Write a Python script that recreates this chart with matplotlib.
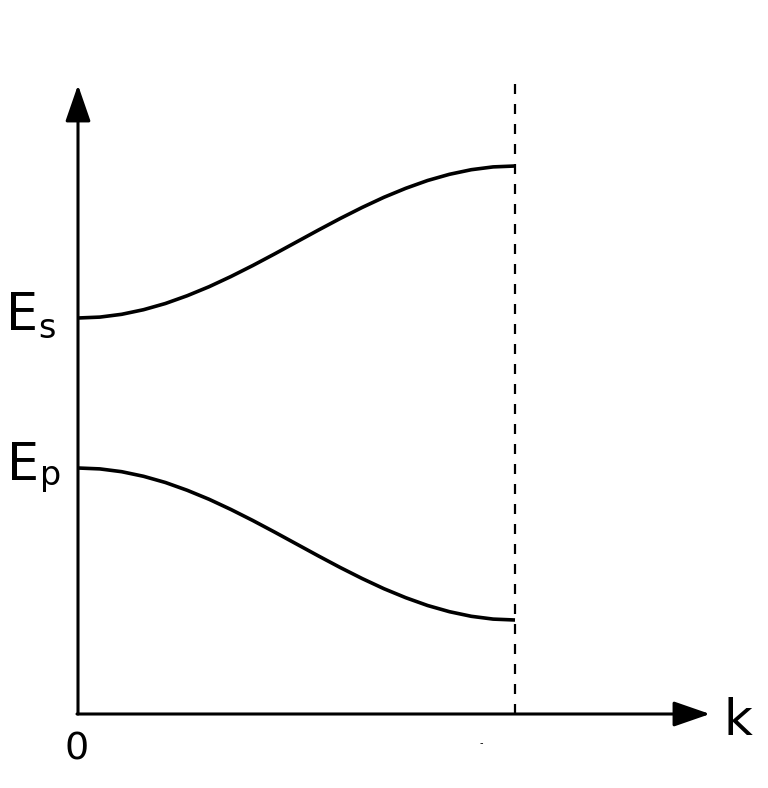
import matplotlib
matplotlib.use("Agg")
import matplotlib.pyplot as plt

# band values (k in units of the zone edge)
k = [0.0, 0.05, 0.1, 0.15, 0.2, 0.25, 0.3, 0.35, 0.4, 0.45, 0.5,
     0.55, 0.6, 0.65, 0.7, 0.75, 0.8, 0.85, 0.9, 0.95, 1.0]
band_s = [3.96, 3.969, 3.997, 4.043, 4.105, 4.183, 4.273, 4.375, 4.485, 4.601, 4.72,
          4.839, 4.955, 5.065, 5.167, 5.257, 5.335, 5.397, 5.443, 5.471, 5.48]
band_p = [2.46, 2.451, 2.423, 2.377, 2.315, 2.237, 2.147, 2.045, 1.935, 1.819, 1.70,
          1.581, 1.465, 1.355, 1.253, 1.163, 1.085, 1.023, 0.977, 0.949, 0.94]
k_edge = 1.0


def px(x, y):
    # picture pixels -> data units
    return (x - 78) / 437, (714 - y) / 100


fig = plt.figure(figsize=(7.68, 7.88), dpi=100)
ax = fig.add_axes([0, 0, 1, 1])
ax.set_xlim(-78 / 437, 690 / 437)
ax.set_ylim(-0.74, 7.14)
ax.axis('off')

# axes with arrows
arrow = dict(arrowstyle="-|>,head_length=1.5,head_width=0.52", mutation_scale=15,
             lw=2.2, color='black', shrinkA=0, shrinkB=0)
ax.annotate("", xy=px(78, 85), xytext=px(78, 714), arrowprops=arrow)
ax.annotate("", xy=px(710, 714), xytext=px(77, 714), arrowprops=arrow)

# zone boundary
ax.plot([k_edge, k_edge], [0, 6.31], color='black', lw=1.6, ls=(0, (4.5, 4.5)))

# bands
ax.plot(k, band_s, color='black', lw=2.6, solid_capstyle='butt')
ax.plot(k, band_p, color='black', lw=2.6, solid_capstyle='butt')

# labels
ax.text(*px(6, 330), 'E', fontsize=36.5, ha='left', va='baseline')
ax.text(*px(38, 338), 's', fontsize=24, ha='left', va='baseline')
ax.text(*px(7, 480), 'E', fontsize=36.5, ha='left', va='baseline')
ax.text(*px(40, 485), 'p', fontsize=24, ha='left', va='baseline')
ax.text(*px(77, 760), '0', fontsize=27.5, ha='center', va='baseline')
ax.text(*px(723, 735), 'k', fontsize=36, ha='left', va='baseline')
ax.text(*px(481, 743), '-', fontsize=7, ha='center', va='center')

fig.savefig("out.png", dpi=100)
